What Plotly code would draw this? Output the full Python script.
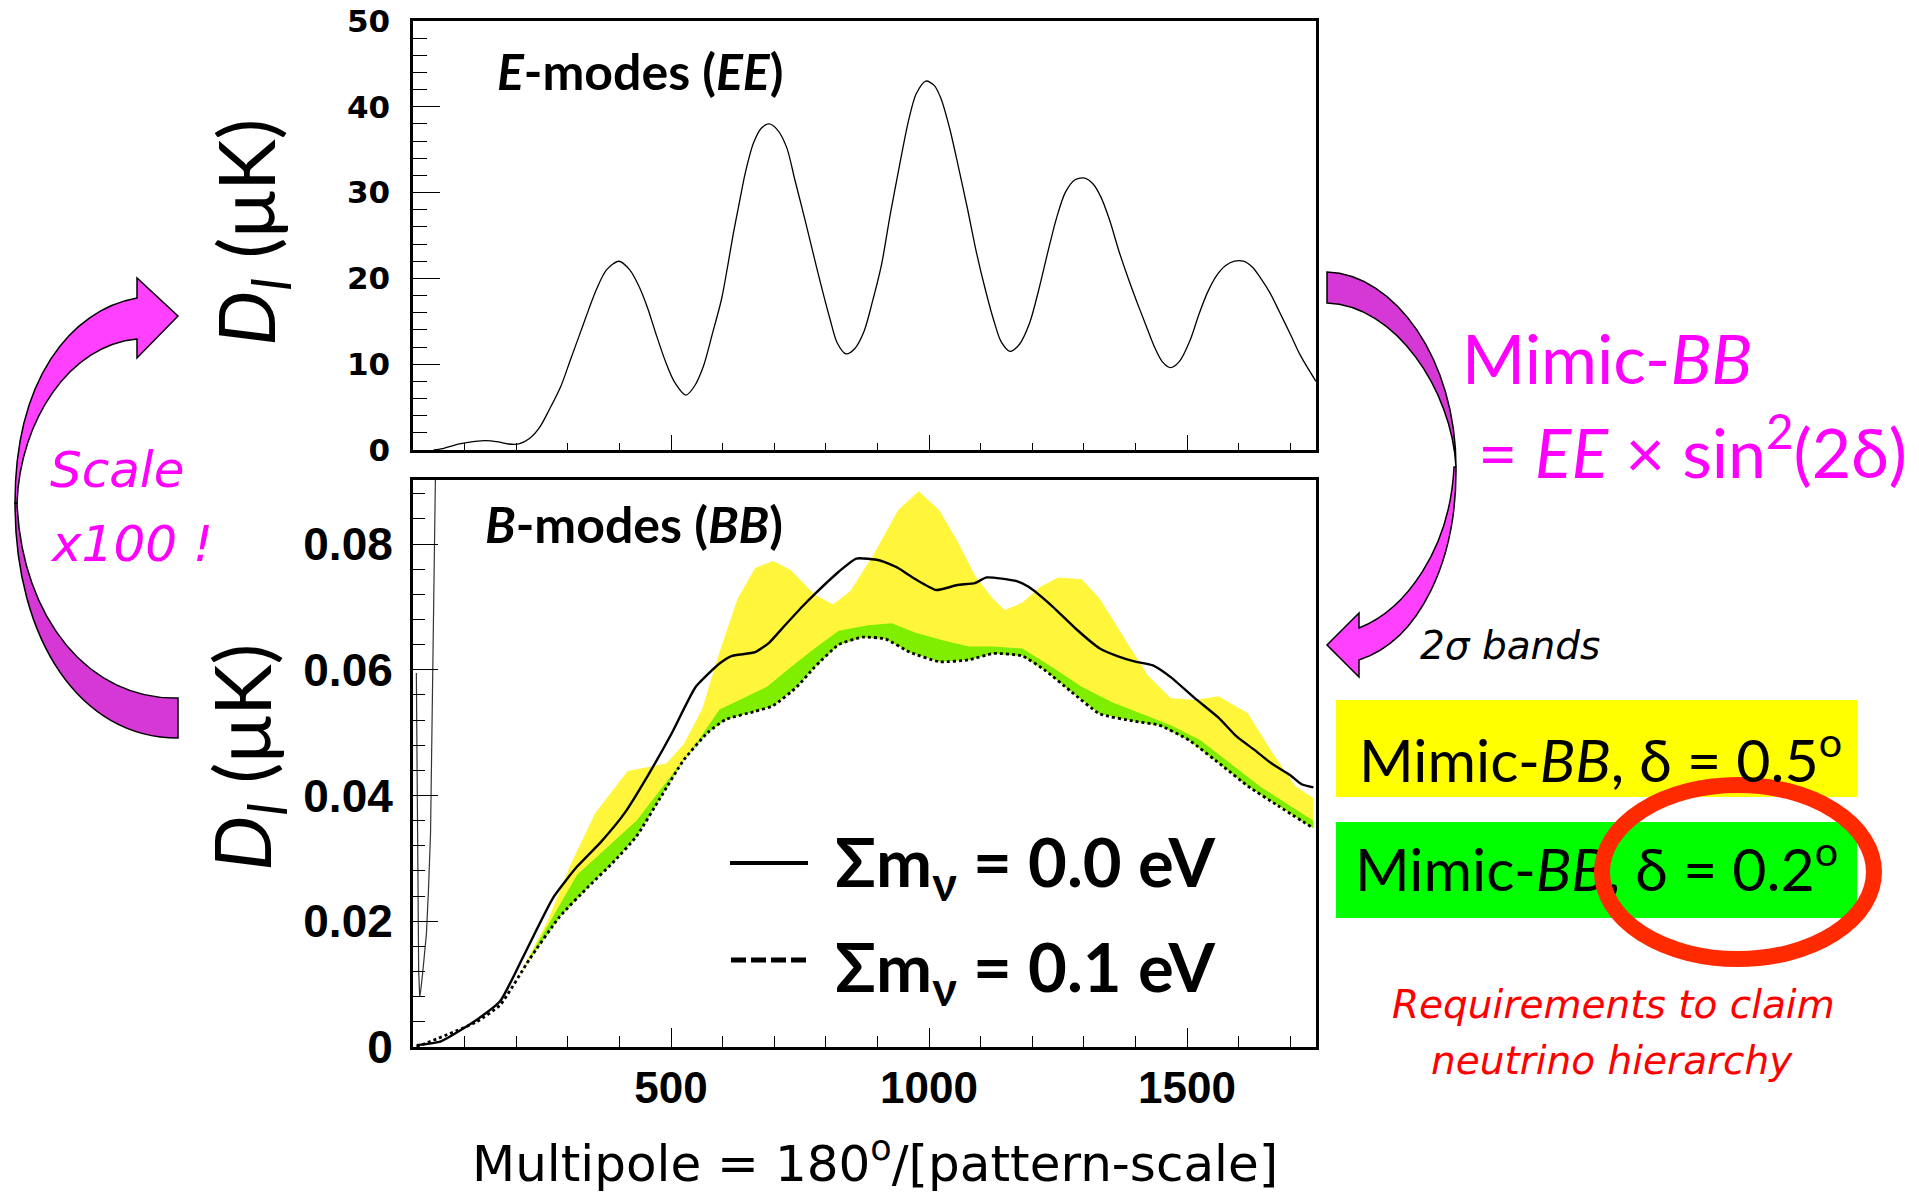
import plotly.graph_objects as go

W, H = 1919, 1197

# ---------------- data ----------------
# E-mode spectrum (top panel): multipole, D_l [muK]
ee_l = [40, 60, 90, 120, 140, 165, 185, 205, 225, 245, 265, 287, 305, 322, 340, 356, 375, 399,
        420, 437, 455, 471, 490, 506, 529, 545, 563, 580, 598, 610, 621, 633, 644, 660, 675, 690,
        705, 724, 740, 759, 776, 793, 808, 822, 839, 856, 874, 890, 908, 925, 943, 960, 975, 994,
        1010, 1023, 1040, 1057, 1075, 1092, 1110, 1126, 1140, 1157, 1175, 1195, 1212, 1230, 1247,
        1264, 1283, 1302, 1318, 1333, 1350, 1368, 1385, 1402, 1420, 1437, 1452, 1468, 1485, 1506,
        1523, 1540, 1557, 1575, 1592, 1609, 1627, 1643, 1660, 1680, 1701, 1720, 1750]
ee_d = [0.0, 0.2, 0.7, 1.0, 1.1, 0.95, 0.7, 0.7, 1.3, 2.6, 4.8, 7.5, 10.5, 13.3, 16.3, 18.8, 21.0, 22.0,
        21.0, 19.2, 16.5, 13.5, 10.2, 8.0, 6.4, 7.4, 9.8, 13.5, 17.6, 21.5, 25.3, 29.0, 32.3, 35.8, 37.5, 38.0,
        37.4, 35.3, 31.5, 27.0, 22.8, 18.7, 15.3, 12.5, 11.2, 11.8, 13.8, 17.2, 21.6, 27.5, 33.2, 38.3, 41.5, 43.0,
        42.5, 41.0, 37.5, 33.0, 28.0, 23.0, 18.5, 15.0, 12.6, 11.5, 12.3, 14.8, 18.5, 23.0, 27.0,
        30.0, 31.5, 31.7, 31.0, 29.5, 26.8, 23.2, 20.2, 17.4, 14.6, 12.0, 10.3, 9.6, 10.3, 12.8,
        15.8, 18.4, 20.3, 21.5, 22.0, 22.0, 21.3, 20.0, 18.4, 16.0, 13.4, 11.0, 8.0]

# B-mode, sum m_nu = 0.0 eV (solid)
bb0_l = [7, 54, 123, 169, 215, 272, 318, 364, 410, 456, 502, 548, 594, 617, 663, 690, 721, 756,
         778, 825, 859, 905, 940, 974, 1014, 1055, 1089, 1112, 1170, 1193, 1239, 1285, 1331, 1365,
         1400, 1434, 1469, 1515, 1561, 1596, 1630, 1664, 1699, 1722, 1745]
bb0_d = [0.0003, 0.0009, 0.0043, 0.0073, 0.0146, 0.0238, 0.0287, 0.0326, 0.0372, 0.0433, 0.0500, 0.0573,
         0.0610, 0.0622, 0.0628, 0.0643, 0.0671, 0.0702, 0.0720, 0.0756, 0.0777, 0.0774, 0.0762, 0.0744,
         0.0727, 0.0735, 0.0738, 0.0747, 0.0741, 0.0732, 0.0701, 0.0665, 0.0634, 0.0622, 0.0613, 0.0607,
         0.0588, 0.0555, 0.0524, 0.0494, 0.0473, 0.0451, 0.0433, 0.0418, 0.0413]

# B-mode, sum m_nu = 0.1 eV (dotted)
bb1_l = [7, 123, 169, 226, 284, 341, 387, 433, 479, 525, 571, 606, 663, 698, 744, 778, 825, 871,
         916, 963, 1020, 1078, 1124, 1181, 1227, 1273, 1331, 1400, 1446, 1504, 1572, 1618, 1676, 1745]
bb1_d = [0.0000, 0.0040, 0.0067, 0.0140, 0.0207, 0.0256, 0.0293, 0.0335, 0.0396, 0.0457, 0.0500, 0.0521,
         0.0534, 0.0543, 0.0573, 0.0604, 0.0640, 0.0652, 0.0649, 0.0628, 0.0613, 0.0616, 0.0626, 0.0622,
         0.0598, 0.0567, 0.0530, 0.0518, 0.0512, 0.0488, 0.0445, 0.0415, 0.0384, 0.0348]

# 2-sigma band upper edge, Mimic-BB delta = 0.2 deg (green)
green_l = [226, 318, 433, 491, 548, 594, 640, 686, 732, 778, 825, 882, 928, 974, 1032, 1078, 1124,
           1181, 1239, 1296, 1354, 1411, 1469, 1526, 1584, 1641, 1699, 1745]
green_d = [0.0143, 0.0274, 0.0360, 0.0421, 0.0482, 0.0537, 0.0555, 0.0573, 0.0604, 0.0634, 0.0662, 0.0671,
           0.0674, 0.0659, 0.0646, 0.0637, 0.0637, 0.0634, 0.0604, 0.0573, 0.0549, 0.0531, 0.0512, 0.0488,
           0.0451, 0.0415, 0.0384, 0.0360]

# 2-sigma band upper edge, Mimic-BB delta = 0.5 deg (yellow)
yellow_l = [203, 261, 307, 353, 416, 491, 525, 560, 594, 629, 663, 698, 732, 778, 814, 848, 893, 940,
            980, 1020, 1055, 1089, 1124, 1147, 1181, 1216, 1250, 1296, 1331, 1377, 1423, 1469, 1515,
            1561, 1618, 1664, 1710, 1745]
yellow_d = [0.0110, 0.0201, 0.0293, 0.0372, 0.0439, 0.0451, 0.0482, 0.0537, 0.0628, 0.0713, 0.0762, 0.0773,
            0.0759, 0.0720, 0.0704, 0.0726, 0.0784, 0.0854, 0.0884, 0.0854, 0.0805, 0.0750, 0.0713, 0.0695,
            0.0707, 0.0732, 0.0747, 0.0744, 0.0713, 0.0652, 0.0592, 0.0555, 0.0552, 0.0558, 0.0531, 0.0470,
            0.0415, 0.0396]

# low-multipole spike in the bottom panel
spike_l = [6.5, 7.5, 9, 11, 13, 15, 19, 23, 26, 30, 34, 37, 40, 42, 45]
spike_d = [0.0595, 0.045, 0.025, 0.012, 0.008, 0.009, 0.012, 0.015, 0.018, 0.025, 0.034, 0.052, 0.072, 0.087, 0.10]

top_y_ticks = [0, 10, 20, 30, 40, 50]
top_y_labels = ["0", "10", "20", "30", "40", "50"]
bot_y_ticks = [0, 0.02, 0.04, 0.06, 0.08]
bot_y_labels = ["0", "0.02", "0.04", "0.06", "0.08"]
x_ticks = [500, 1000, 1500]
x_labels = ["500", "1000", "1500"]

# ---------------- geometry helpers ----------------
def px(x):
    return x / W


def py(y):
    return 1 - y / H


def P(x, y):
    return f"{px(x):.5f},{py(y):.5f}"


X0, X1 = 413, 1316
TOP_T, TOP_B = 21, 450
BOT_T, BOT_B = 480, 1047

fig = go.Figure()

# yellow band (fill between dotted curve and yellow upper edge)
low_y = [(l, d) for l, d in zip(bb1_l, bb1_d) if yellow_l[0] <= l <= yellow_l[-1]]
fig.add_trace(go.Scatter(
    x=yellow_l + [l for l, _ in reversed(low_y)],
    y=yellow_d + [d for _, d in reversed(low_y)],
    fill="toself", fillcolor="#FFF53B", line=dict(width=0), mode="lines",
    xaxis="x2", yaxis="y2", hoverinfo="skip"))
low_g = [(l, d) for l, d in zip(bb1_l, bb1_d) if green_l[0] <= l <= green_l[-1]]
fig.add_trace(go.Scatter(
    x=green_l + [l for l, _ in reversed(low_g)],
    y=green_d + [d for _, d in reversed(low_g)],
    fill="toself", fillcolor="#80EE00", line=dict(width=0), mode="lines",
    xaxis="x2", yaxis="y2", hoverinfo="skip"))

fig.add_trace(go.Scatter(x=bb0_l, y=bb0_d, mode="lines",
                         line=dict(color="black", width=2.4, shape="spline", smoothing=0.5),
                         xaxis="x2", yaxis="y2"))
fig.add_trace(go.Scatter(x=bb1_l, y=bb1_d, mode="lines",
                         line=dict(color="black", width=2.8, dash="dot", shape="spline", smoothing=0.5),
                         xaxis="x2", yaxis="y2"))
fig.add_trace(go.Scatter(x=spike_l, y=spike_d, mode="lines",
                         line=dict(color="#333333", width=1.2),
                         xaxis="x2", yaxis="y2"))

fig.add_trace(go.Scatter(x=ee_l, y=ee_d, mode="lines",
                         line=dict(color="black", width=1.3, shape="spline", smoothing=0.8),
                         xaxis="x", yaxis="y"))

# text inside the green box, drawn as a trace so the red ring can sit on top of it
fig.add_trace(go.Scatter(x=[1355], y=[876], mode="text",
                         text=["Mimic-<i>BB</i>, δ = 0.2<sup>o</sup>"],
                         textposition="middle right",
                         textfont=dict(family="Lato", size=59, color="black"),
                         xaxis="x3", yaxis="y3", hoverinfo="skip"))

minor_x = [v for v in range(100, 1750, 100) if v % 500 != 0]

axis_common = dict(showgrid=False, zeroline=False, showline=True, linecolor="black",
                   mirror=True, ticks="inside", tickcolor="black", automargin=False)

fig.update_layout(
    width=W, height=H, margin=dict(l=0, r=0, t=0, b=0, pad=0, autoexpand=False),
    paper_bgcolor="white", plot_bgcolor="rgba(0,0,0,0)", showlegend=False,
    xaxis=dict(domain=[px(X0), px(X1)], range=[0, 1750], anchor="y",
               tickmode="array", tickvals=x_ticks, ticklen=15, tickwidth=1.3,
               showticklabels=False, linewidth=2.5,
               minor=dict(tickmode="array", tickvals=minor_x, ticklen=7, tickwidth=1.3,
                          ticks="inside", tickcolor="black"),
               **axis_common),
    yaxis=dict(domain=[py(TOP_B), py(TOP_T)], range=[0, 50], anchor="x",
               tickmode="array", tickvals=top_y_ticks, ticktext=top_y_labels,
               ticklen=27, tickwidth=1.3, linewidth=2.5, ticklabelstandoff=14,
               tickfont=dict(family="DejaVu Sans", size=31, weight="bold", color="black"),
               minor=dict(tickmode="array", tickvals=[v for v in range(2, 50, 2) if v % 10 != 0],
                          ticklen=14, tickwidth=1.3, ticks="inside", tickcolor="black"),
               **axis_common),
    xaxis2=dict(domain=[px(X0), px(X1)], range=[0, 1750], anchor="y2",
                tickmode="array", tickvals=x_ticks, ticktext=x_labels,
                ticklen=19, tickwidth=1.4, linewidth=3, ticklabelstandoff=0,
                tickfont=dict(family="Liberation Sans", size=44, weight="bold", color="black"),
                minor=dict(tickmode="array", tickvals=minor_x, ticklen=11, tickwidth=1.4,
                           ticks="inside", tickcolor="black"),
                **axis_common),
    yaxis2=dict(domain=[py(BOT_B), py(BOT_T)], range=[0, 0.0902], anchor="x2",
                tickmode="array", tickvals=bot_y_ticks, ticktext=bot_y_labels,
                ticklen=25, tickwidth=1.4, linewidth=3, ticklabelstandoff=8,
                tickfont=dict(family="Liberation Sans", size=46, weight="bold", color="black"),
                minor=dict(tickmode="array",
                           tickvals=[round(0.004 * k, 3) for k in range(1, 23) if k % 5 != 0],
                           ticklen=12, tickwidth=1.4, ticks="inside", tickcolor="black"),
                **axis_common),
    xaxis3=dict(domain=[0, 1], range=[0, W], anchor="y3", visible=False, automargin=False),
    yaxis3=dict(domain=[0, 1], range=[H, 0], anchor="x3", visible=False, automargin=False),
)

MAG = "#FF00FF"
LIGHT = "#FF40FF"
DARK = "#D538D5"

shapes = []
# right curved arrow (top part dark, lower part light + head)
shapes.append(dict(type="path", xref="paper", yref="paper", layer="above",
                   path=f"M{P(1327,272)} C{P(1395,274)} {P(1456,360)} {P(1456,467)} "
                        f"C{P(1452,390)} {P(1395,305)} {P(1327,303)} Z",
                   fillcolor=DARK, line=dict(color="black", width=1.5)))
shapes.append(dict(type="path", xref="paper", yref="paper", layer="above",
                   path=f"M{P(1456,467)} C{P(1457,560)} {P(1420,640)} {P(1359,660)} "
                        f"L{P(1359,677)} L{P(1327,645)} L{P(1359,613)} L{P(1359,628)} "
                        f"C{P(1405,610)} {P(1450,550)} {P(1454,467)} Z",
                   fillcolor=LIGHT, line=dict(color="black", width=1.5)))
# left curved arrow (lower part dark, upper part light + head)
shapes.append(dict(type="path", xref="paper", yref="paper", layer="above",
                   path=f"M{P(15,503)} C{P(15,640)} {P(80,738)} {P(178,738)} "
                        f"L{P(178,698)} C{P(90,700)} {P(22,620)} {P(17,503)} Z",
                   fillcolor=DARK, line=dict(color="black", width=1.5)))
shapes.append(dict(type="path", xref="paper", yref="paper", layer="above",
                   path=f"M{P(15,503)} C{P(15,380)} {P(70,310)} {P(137,298)} "
                        f"L{P(137,278)} L{P(178,316)} L{P(137,358)} L{P(137,339)} "
                        f"C{P(70,345)} {P(20,420)} {P(17,503)} Z",
                   fillcolor=LIGHT, line=dict(color="black", width=1.5)))
# legend boxes
shapes.append(dict(type="rect", xref="paper", yref="paper", layer="below",
                   x0=px(1336), x1=px(1857), y0=py(797), y1=py(700),
                   fillcolor="#FFFF00", line=dict(width=0)))
shapes.append(dict(type="rect", xref="paper", yref="paper", layer="below",
                   x0=px(1336), x1=px(1857), y0=py(918), y1=py(822),
                   fillcolor="#00FF00", line=dict(width=0)))
# red ellipse
shapes.append(dict(type="circle", xref="paper", yref="paper", layer="above",
                   x0=px(1602), x1=px(1874), y0=py(959), y1=py(785),
                   line=dict(color="#FF2A00", width=16)))
# legend line samples in the bottom panel
shapes.append(dict(type="line", xref="paper", yref="paper", layer="above",
                   x0=px(730), x1=px(808), y0=py(863), y1=py(863),
                   line=dict(color="black", width=4)))
shapes.append(dict(type="line", xref="paper", yref="paper", layer="above",
                   x0=px(731), x1=px(808), y0=py(960), y1=py(960),
                   line=dict(color="black", width=5, dash="15px,5px")))
fig.update_layout(shapes=shapes)


def ann(text, x, y, size, color="black", xanchor="center", bold=False, italic=False,
        angle=0, family="Lato"):
    return dict(text=text, x=px(x), y=py(y), xref="paper", yref="paper",
                xanchor=xanchor, yanchor="middle", showarrow=False, textangle=angle,
                font=dict(family=family, size=size, color=color,
                          weight="bold" if bold else "normal",
                          style="italic" if italic else "normal"))


annotations = [
    ann("<i>E</i>-modes (<i>EE</i>)", 640, 71, 50, bold=True),
    ann("<i>B</i>-modes (<i>BB</i>)", 634, 524, 50, bold=True),
    ann("<i>D</i><sub><i>l</i></sub> (μK)", 250, 233, 78, angle=-90),
    ann("<i>D</i><sub><i>l</i></sub> (μK)", 246, 758, 78, angle=-90),
    ann("Multipole = 180<sup>o</sup>/[pattern-scale]", 875, 1160, 50, family="DejaVu Sans"),
    ann("Σm<sub>ν</sub> = 0.0 eV", 833, 866, 67, xanchor="left", bold=True),
    ann("Σm<sub>ν</sub> = 0.1 eV", 833, 971, 67, xanchor="left", bold=True),
    ann("Mimic-<i>BB</i>", 1460, 357, 68, color=MAG, xanchor="left"),
    ann("= <i>EE</i> × sin<sup>2</sup>(2δ)", 1476, 447, 68, color=MAG, xanchor="left"),
    ann("2σ bands", 1418, 645, 39, italic=True, xanchor="left", family="DejaVu Sans"),
    ann("Scale", 48, 470, 50, color=MAG, italic=True, xanchor="left", family="DejaVu Sans"),
    ann("x100 !", 48, 544, 50, color=MAG, italic=True, xanchor="left", family="DejaVu Sans"),
    ann("Mimic-<i>BB</i>, δ = 0.5<sup>o</sup>", 1357, 755, 59, xanchor="left"),
    ann("Requirements to claim", 1613, 1004, 39, color="#FF0000", italic=True, family="DejaVu Sans"),
    ann("neutrino hierarchy", 1612, 1060, 39, color="#FF0000", italic=True, family="DejaVu Sans"),
]
fig.update_layout(annotations=annotations)

fig.write_html("out.html")
